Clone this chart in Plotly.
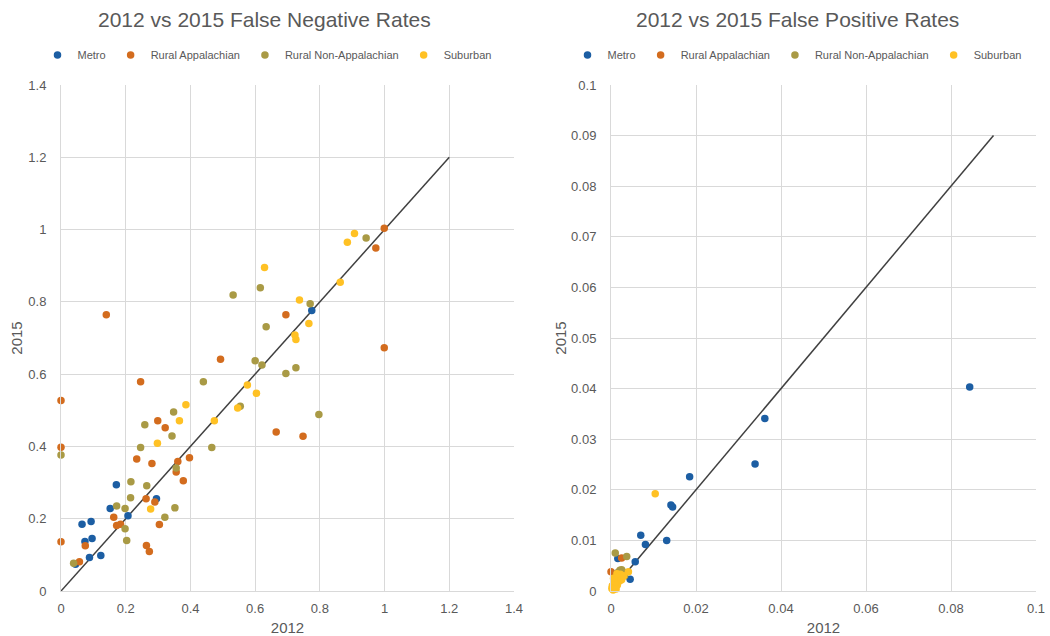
import plotly.graph_objects as go

# ---------------- Data: False Negative Rates (2012 vs 2015) ----------------
fn_metro_2012 = [0.775, 0.171, 0.065, 0.093, 0.074, 0.096, 0.088, 0.123, 0.045, 0.152, 0.207, 0.295]
fn_metro_2015 = [0.776, 0.294, 0.185, 0.192, 0.137, 0.145, 0.093, 0.098, 0.074, 0.228, 0.208, 0.255]

fn_rapp_2012 = [0.0, 0.0, 0.0, 0.246, 0.299, 0.322, 0.234, 0.281, 0.361, 0.356, 0.397, 0.378,
                0.263, 0.290, 0.163, 0.172, 0.184, 0.304, 0.264, 0.273, 0.075, 0.057, 0.665,
                0.748, 0.140, 0.493, 0.695, 0.999, 0.973, 0.999]
fn_rapp_2015 = [0.527, 0.398, 0.136, 0.579, 0.471, 0.452, 0.365, 0.353, 0.358, 0.329, 0.369, 0.305,
                0.255, 0.246, 0.204, 0.181, 0.185, 0.184, 0.126, 0.109, 0.125, 0.081, 0.440,
                0.428, 0.764, 0.641, 0.764, 1.004, 0.949, 0.673]

fn_rnon_2012 = [0.0, 0.440, 0.259, 0.348, 0.343, 0.246, 0.356, 0.216, 0.265, 0.215, 0.172, 0.198,
                0.352, 0.321, 0.198, 0.203, 0.039, 0.466, 0.554, 0.532, 0.616, 0.634, 0.600,
                0.621, 0.695, 0.726, 0.943, 0.770, 0.797]
fn_rnon_2015 = [0.376, 0.579, 0.460, 0.495, 0.429, 0.397, 0.340, 0.302, 0.291, 0.258, 0.235, 0.228,
                0.230, 0.204, 0.172, 0.140, 0.077, 0.397, 0.511, 0.819, 0.839, 0.731, 0.637,
                0.625, 0.602, 0.618, 0.977, 0.795, 0.488]

fn_sub_2012 = [0.386, 0.366, 0.298, 0.277, 0.474, 0.546, 0.576, 0.604, 0.737, 0.723, 0.726,
               0.907, 0.885, 0.863, 0.766, 0.629]
fn_sub_2015 = [0.515, 0.471, 0.409, 0.227, 0.471, 0.506, 0.570, 0.547, 0.805, 0.708, 0.696,
               0.989, 0.965, 0.854, 0.740, 0.895]

# ---------------- Data: False Positive Rates (2012 vs 2015) ----------------
fp_metro_2012 = [0.0844, 0.0362, 0.0339, 0.0185, 0.0141, 0.0145, 0.0131, 0.0070, 0.0081, 0.0057,
                 0.0045, 0.0016, 0.0010, 0.0020, 0.0008, 0.0025]
fp_metro_2015 = [0.0403, 0.0341, 0.0251, 0.0226, 0.0170, 0.0166, 0.0100, 0.0110, 0.0092, 0.0058,
                 0.0023, 0.0064, 0.0012, 0.0025, 0.0005, 0.0030]

fp_rapp_2012 = [0.0025, 0.0000, 0.0012, 0.0030, 0.0008, 0.0018, 0.0005, 0.0022, 0.0015, 0.0010]
fp_rapp_2015 = [0.0065, 0.0038, 0.0032, 0.0030, 0.0020, 0.0028, 0.0012, 0.0040, 0.0015, 0.0008]

fp_rnon_2012 = [0.0010, 0.0037, 0.0021, 0.0015, 0.0028, 0.0008, 0.0032, 0.0012, 0.0005, 0.0025]
fp_rnon_2015 = [0.0075, 0.0068, 0.0041, 0.0036, 0.0038, 0.0025, 0.0030, 0.0018, 0.0010, 0.0042]

fp_sub_2012 = [0.0104, 0.0041, 0.0005, 0.0010, 0.0015, 0.0020, 0.0003, 0.0008, 0.0012, 0.0018,
               0.0025, 0.0002, 0.0006, 0.0022, 0.0030, 0.0014]
fp_sub_2015 = [0.0192, 0.0038, 0.0002, 0.0008, 0.0012, 0.0020, 0.0010, 0.0016, 0.0004, 0.0028,
               0.0022, 0.0005, 0.0025, 0.0033, 0.0030, 0.0034]

fn_diag = [0, 1.2]
fp_diag = [0, 0.09]

series_names = ["Metro", "Rural Appalachian", "Rural Non-Appalachian", "Suburban"]
colors = ["#1C5EA3", "#D36C1E", "#A99A45", "#FFC124"]

FONT = "Liberation Sans, Arial, sans-serif"
GREY = "#595959"
GRID = "#D9D9D9"

fig = go.Figure()

fn_sets = [(fn_metro_2012, fn_metro_2015), (fn_rapp_2012, fn_rapp_2015),
           (fn_rnon_2012, fn_rnon_2015), (fn_sub_2012, fn_sub_2015)]
fp_sets = [(fp_metro_2012, fp_metro_2015), (fp_rapp_2012, fp_rapp_2015),
           (fp_rnon_2012, fp_rnon_2015), (fp_sub_2012, fp_sub_2015)]

# diagonal reference lines
fig.add_trace(go.Scatter(x=fn_diag, y=fn_diag, mode="lines", line=dict(color="#404040", width=1.5),
                         showlegend=False, xaxis="x", yaxis="y", hoverinfo="skip"))
fig.add_trace(go.Scatter(x=fp_diag, y=fp_diag, mode="lines", line=dict(color="#404040", width=1.5),
                         showlegend=False, xaxis="x2", yaxis="y2", hoverinfo="skip"))

for name, col, (xs, ys) in zip(series_names, colors, fn_sets):
    fig.add_trace(go.Scatter(x=xs, y=ys, mode="markers", name=name,
                             marker=dict(color=col, size=7.5, line=dict(width=0)),
                             xaxis="x", yaxis="y", legend="legend", cliponaxis=False))
for name, col, (xs, ys) in zip(series_names, colors, fp_sets):
    fig.add_trace(go.Scatter(x=xs, y=ys, mode="markers", name=name,
                             marker=dict(color=col, size=7.5, line=dict(width=0)),
                             xaxis="x2", yaxis="y2", legend="legend2", cliponaxis=False))

W, H = 1050, 636
ydom = [(H - 591) / H, (H - 85) / H]

axis_common = dict(showgrid=True, gridcolor=GRID, gridwidth=1, zeroline=False,
                   showline=True, linecolor=GRID, linewidth=1, ticks="", automargin=False,
                   tickfont=dict(family=FONT, size=13, color=GREY),
                   title_font=dict(family=FONT, size=15, color=GREY), mirror=False)

fig.update_layout(
    width=W, height=H,
    paper_bgcolor="white", plot_bgcolor="white",
    margin=dict(l=0, r=0, t=0, b=0, autoexpand=False),
    font=dict(family=FONT, color=GREY),
    xaxis=dict(axis_common, domain=[61 / W, 514 / W], range=[0, 1.4], dtick=0.2,
               anchor="y", title=dict(text="2012", standoff=7), ticklabelstandoff=5),
    yaxis=dict(axis_common, domain=ydom, range=[0, 1.4], dtick=0.2, anchor="x",
               title=dict(text="2015", standoff=2), ticklabelstandoff=11),
    xaxis2=dict(axis_common, domain=[611 / W, 1036 / W], range=[0, 0.1], dtick=0.02,
                anchor="y2", title=dict(text="2012", standoff=7), ticklabelstandoff=5),
    yaxis2=dict(axis_common, domain=ydom, range=[0, 0.1], dtick=0.01, anchor="x2",
                title=dict(text="2015", standoff=0), ticklabelstandoff=11),
    legend=dict(orientation="h", x=267 / W, xanchor="center", y=1 - 55 / H, yanchor="middle",
                font=dict(family=FONT, size=11, color=GREY), itemwidth=30,
                bgcolor="rgba(0,0,0,0)"),
    legend2=dict(orientation="h", x=797 / W, xanchor="center", y=1 - 55 / H, yanchor="middle",
                 font=dict(family=FONT, size=11, color=GREY), itemwidth=30,
                 bgcolor="rgba(0,0,0,0)"),
    annotations=[
        dict(text="2012 vs 2015 False Negative Rates", x=264 / W, y=1 - 20 / H, xref="paper",
             yref="paper", xanchor="center", yanchor="middle", showarrow=False,
             font=dict(family=FONT, size=21, color=GREY)),
        dict(text="2012 vs 2015 False Positive Rates", x=797 / W, y=1 - 20 / H, xref="paper",
             yref="paper", xanchor="center", yanchor="middle", showarrow=False,
             font=dict(family=FONT, size=21, color=GREY)),
    ],
)

fig.write_html("out.html", config={"displayModeBar": False},
               post_script="document.body.style.margin='0';document.body.style.overflow='hidden';")
